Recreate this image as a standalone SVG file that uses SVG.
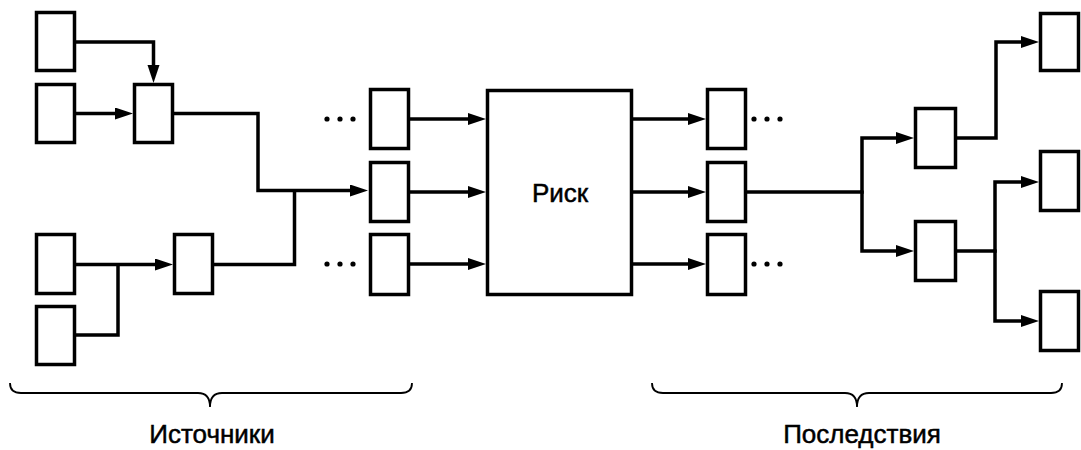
<svg xmlns="http://www.w3.org/2000/svg" width="1081" height="450" viewBox="0 0 1081 450">
<style>
.box{fill:#fff;stroke:#000;stroke-width:3.5}
.c{fill:none;stroke:#000;stroke-width:3.5;stroke-linejoin:miter}
.c.a{marker-end:url(#arr)}
.br{fill:none;stroke:#000;stroke-width:1.8}
.t{font-family:"Liberation Sans",Arial,sans-serif;font-size:26px;fill:#000;stroke:#000;stroke-width:0.5;text-anchor:middle}
.dot{fill:#000}
</style>
<defs>
<marker id="arr" markerUnits="userSpaceOnUse" markerWidth="20" markerHeight="14" refX="10" refY="6" orient="auto">
<path d="M0,0 L18,6 L0,12 z" fill="#000"/>
</marker>
</defs>
<g id="connectors">
<path class="c a" d="M75,42 H153.5 V75"/>
<path class="c a" d="M75,113.5 H125"/>
<path class="c a" d="M173,113.5 H258 V190.5 H360"/>
<path class="c" d="M213,264.5 H294.5 V190.5"/>
<path class="c a" d="M75,264.5 H165"/>
<path class="c" d="M75,335 H118 V264.5"/>
<path class="c a" d="M409,119 H478"/>
<path class="c a" d="M409,192 H478"/>
<path class="c a" d="M409,264 H478"/>
<path class="c a" d="M632,119 H698"/>
<path class="c a" d="M632,192 H698"/>
<path class="c a" d="M632,264 H698"/>
<path class="c a" d="M746,192 H862 V138 H906"/>
<path class="c a" d="M862,190.5 V251 H906"/>
<path class="c a" d="M956,138 H996 V42 H1031"/>
<path class="c a" d="M956,251 H995 V182 H1031"/>
<path class="c a" d="M995,249.5 V321 H1031"/>
</g>
<g id="A1"><rect class="box" x="36.5" y="12.5" width="38" height="58"/></g>
<g id="A2"><rect class="box" x="36.5" y="84.5" width="38" height="58"/></g>
<g id="B"><rect class="box" x="134.5" y="84.5" width="38" height="58"/></g>
<g id="D1"><rect class="box" x="36.5" y="234.5" width="38" height="59"/></g>
<g id="D2"><rect class="box" x="36.5" y="306.5" width="38" height="58"/></g>
<g id="E"><rect class="box" x="174.5" y="234.5" width="38" height="59"/></g>
<g id="C1"><rect class="box" x="370.5" y="89.5" width="38" height="59"/></g>
<g id="C2"><rect class="box" x="370.5" y="162.5" width="38" height="59"/></g>
<g id="C3"><rect class="box" x="370.5" y="234.5" width="38" height="60"/></g>
<g id="risk"><rect class="box" x="487.5" y="90.5" width="144" height="204"/><text class="t" x="560" y="202">Риск</text></g>
<g id="F1"><rect class="box" x="707.5" y="89.5" width="38" height="59"/></g>
<g id="F2"><rect class="box" x="707.5" y="162.5" width="38" height="59"/></g>
<g id="F3"><rect class="box" x="707.5" y="234.5" width="38" height="60"/></g>
<g id="G1"><rect class="box" x="915.5" y="108.5" width="40" height="59"/></g>
<g id="G2"><rect class="box" x="915.5" y="221.5" width="40" height="59"/></g>
<g id="H1"><rect class="box" x="1040.5" y="13.5" width="38" height="57"/></g>
<g id="H2"><rect class="box" x="1040.5" y="151.5" width="38" height="59"/></g>
<g id="H3"><rect class="box" x="1040.5" y="291.5" width="38" height="59"/></g>
<g id="dots">
<circle class="dot" cx="327" cy="119" r="2.6"/><circle class="dot" cx="340" cy="119" r="2.6"/><circle class="dot" cx="353" cy="119" r="2.6"/>
<circle class="dot" cx="327" cy="264" r="2.6"/><circle class="dot" cx="340" cy="264" r="2.6"/><circle class="dot" cx="353" cy="264" r="2.6"/>
<circle class="dot" cx="754" cy="119" r="2.6"/><circle class="dot" cx="767" cy="119" r="2.6"/><circle class="dot" cx="780" cy="119" r="2.6"/>
<circle class="dot" cx="754" cy="264" r="2.6"/><circle class="dot" cx="767" cy="264" r="2.6"/><circle class="dot" cx="780" cy="264" r="2.6"/>
</g>
<g id="sources">
<path class="br" d="M10,383 Q10,393 21,393 H198 Q210,393 210,407 Q210,393 222,393 H401 Q412,393 412,383"/>
<text class="t" x="212" y="443">Источники</text>
</g>
<g id="consequences">
<path class="br" d="M652,383 Q652,393 663,393 H845 Q857,393 857,407 Q857,393 869,393 H1051 Q1062,393 1062,383"/>
<text class="t" x="862" y="443">Последствия</text>
</g>
</svg>
